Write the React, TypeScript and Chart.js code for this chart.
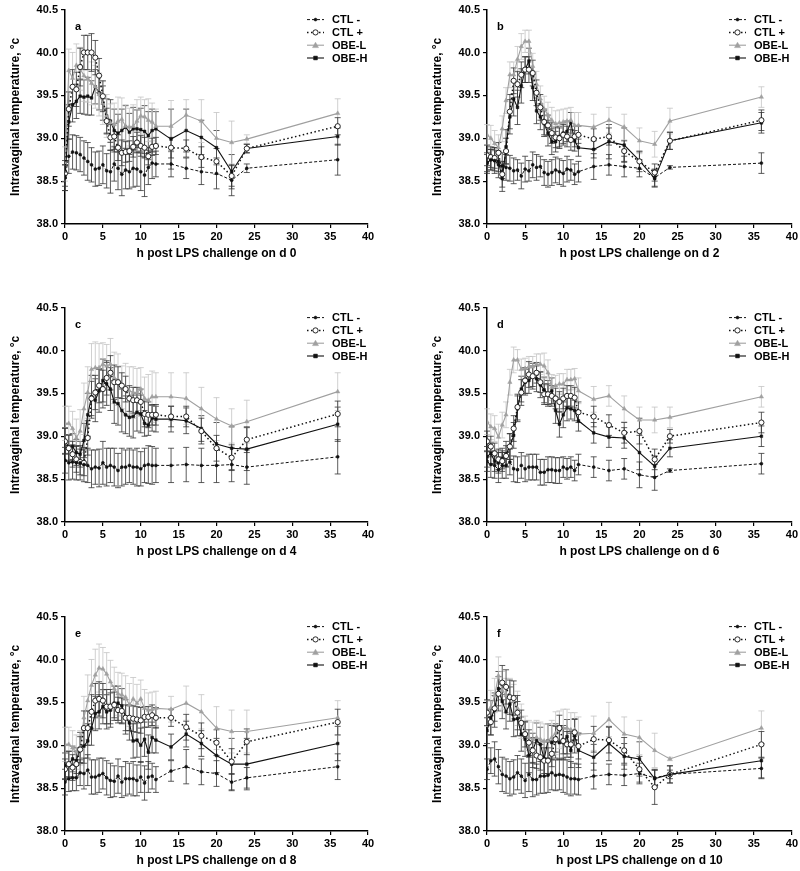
import React, { useEffect, useRef } from 'react';
import { Chart, registerables } from 'chart.js';
Chart.register(...registerables);

// ---------- data ----------
const hours = [0, 0.5, 1, 1.5, 2, 2.5, 3, 3.5, 4, 4.5, 5, 5.5, 6, 6.5, 7, 7.5, 8, 8.5, 9, 9.5, 10, 10.5, 11, 11.5, 12, 14, 16, 18, 20, 22, 24, 36];
const seriesLabels = ['CTL -', 'CTL +', 'OBE-L', 'OBE-H'];
const panelLetters = ['a', 'b', 'c', 'd', 'e', 'f'];
const challengeDays = [0, 2, 4, 6, 8, 10];
const yTitle = 'Intravaginal temperature, °c';
const xTicksMinMax = [0, 40];
const yTicksMinMax = [38, 40.5];

// panel a (d 0)
const aCtlNeg = [38.54, 38.79, 38.84, 38.83, 38.81, 38.77, 38.73, 38.69, 38.64, 38.65, 38.69, 38.62, 38.61, 38.70, 38.65, 38.58, 38.63, 38.61, 38.65, 38.64, 38.61, 38.57, 38.66, 38.71, 38.70, 38.70, 38.65, 38.61, 38.59, 38.51, 38.65, 38.75];
const aCtlPos = [38.59, 39.34, 39.60, 39.57, 39.83, 40.00, 40.00, 40.00, 39.94, 39.73, 39.49, 39.20, 39.01, 39.02, 38.89, 38.83, 38.84, 38.85, 38.90, 38.95, 38.91, 38.89, 38.79, 38.90, 38.91, 38.89, 38.88, 38.78, 38.73, 38.56, 38.88, 39.14];
const aObeL = [38.70, 39.79, 39.70, 39.85, 39.81, 39.73, 39.70, 39.64, 39.60, 39.51, 39.41, 39.26, 39.18, 39.16, 39.20, 39.22, 39.14, 39.13, 39.14, 39.20, 39.26, 39.25, 39.21, 39.19, 39.14, 39.14, 39.27, 39.20, 39.00, 38.95, 38.99, 39.29];
const aObeH = [38.54, 39.19, 39.39, 39.43, 39.49, 39.48, 39.49, 39.47, 39.60, 39.53, 39.41, 39.26, 39.20, 39.09, 39.06, 39.09, 39.13, 39.07, 39.11, 39.11, 39.10, 39.08, 39.03, 39.09, 39.11, 38.99, 39.09, 39.01, 38.89, 38.61, 38.88, 39.02];
const aCtlNegSe = [0.15, 0.2, 0.2, 0.2, 0.2, 0.2, 0.22, 0.2, 0.2, 0.2, 0.22, 0.2, 0.25, 0.2, 0.25, 0.25, 0.22, 0.2, 0.22, 0.2, 0.22, 0.25, 0.2, 0.18, 0.15, 0.15, 0.12, 0.15, 0.18, 0.18, 0.05, 0.18];
const aCtlPosSe = [0.15, 0.2, 0.2, 0.2, 0.22, 0.2, 0.2, 0.22, 0.2, 0.2, 0.18, 0.15, 0.15, 0.15, 0.15, 0.15, 0.12, 0.12, 0.12, 0.12, 0.12, 0.12, 0.1, 0.1, 0.1, 0.12, 0.1, 0.12, 0.15, 0.12, 0.05, 0.1];
const aObeLSe = [0.2, 0.25, 0.3, 0.25, 0.25, 0.3, 0.28, 0.25, 0.25, 0.25, 0.25, 0.25, 0.22, 0.25, 0.28, 0.25, 0.25, 0.22, 0.25, 0.25, 0.22, 0.2, 0.25, 0.22, 0.2, 0.3, 0.18, 0.25, 0.3, 0.25, 0.05, 0.17];
const aObeHSe = [0.15, 0.2, 0.2, 0.2, 0.2, 0.2, 0.22, 0.2, 0.2, 0.2, 0.2, 0.2, 0.25, 0.25, 0.22, 0.25, 0.25, 0.22, 0.25, 0.22, 0.25, 0.3, 0.28, 0.25, 0.2, 0.35, 0.25, 0.2, 0.2, 0.2, 0.05, 0.1];

// panel b (d 2)
const bCtlNeg = [38.71, 38.75, 38.74, 38.69, 38.68, 38.66, 38.65, 38.62, 38.63, 38.56, 38.64, 38.62, 38.69, 38.66, 38.67, 38.60, 38.58, 38.60, 38.63, 38.61, 38.59, 38.64, 38.63, 38.58, 38.61, 38.67, 38.69, 38.67, 38.65, 38.54, 38.66, 38.71];
const bCtlPos = [38.80, 38.78, 38.77, 38.83, 38.58, 38.85, 39.31, 39.67, 39.63, 39.74, 39.80, 39.80, 39.76, 39.53, 39.36, 39.19, 39.15, 39.06, 39.01, 39.00, 39.04, 39.02, 38.98, 39.02, 39.04, 38.99, 39.02, 38.85, 38.73, 38.60, 38.97, 39.21];
const bObeL = [39.04, 39.00, 38.94, 38.89, 39.11, 39.44, 39.74, 39.74, 39.92, 40.07, 40.13, 40.13, 39.84, 39.63, 39.46, 39.34, 39.27, 39.21, 39.17, 39.18, 39.19, 39.20, 39.21, 39.15, 39.15, 39.13, 39.21, 39.13, 38.97, 38.93, 39.20, 39.48];
const bObeH = [38.71, 38.75, 38.74, 38.73, 38.53, 38.90, 39.25, 39.46, 39.36, 39.61, 39.80, 39.90, 39.59, 39.32, 39.25, 39.17, 39.06, 38.96, 38.96, 39.02, 39.06, 39.08, 39.18, 38.97, 38.89, 38.87, 38.96, 38.92, 38.74, 38.53, 38.97, 39.18];
const bCtlNegSe = [0.1, 0.12, 0.15, 0.15, 0.15, 0.15, 0.15, 0.15, 0.12, 0.15, 0.15, 0.12, 0.15, 0.15, 0.12, 0.15, 0.15, 0.15, 0.15, 0.15, 0.15, 0.15, 0.12, 0.12, 0.12, 0.15, 0.12, 0.12, 0.1, 0.1, 0.02, 0.12];
const bCtlPosSe = [0.12, 0.12, 0.12, 0.12, 0.15, 0.15, 0.2, 0.15, 0.15, 0.15, 0.15, 0.15, 0.15, 0.15, 0.15, 0.15, 0.12, 0.12, 0.12, 0.12, 0.12, 0.12, 0.12, 0.12, 0.1, 0.12, 0.1, 0.12, 0.12, 0.1, 0.1, 0.12];
const bObeLSe = [0.12, 0.15, 0.15, 0.15, 0.15, 0.15, 0.15, 0.15, 0.15, 0.15, 0.13, 0.13, 0.15, 0.15, 0.15, 0.15, 0.15, 0.15, 0.15, 0.15, 0.15, 0.15, 0.15, 0.15, 0.15, 0.15, 0.15, 0.15, 0.15, 0.15, 0.15, 0.12];
const bObeHSe = [0.12, 0.12, 0.12, 0.12, 0.15, 0.2, 0.2, 0.2, 0.2, 0.2, 0.15, 0.15, 0.15, 0.15, 0.15, 0.15, 0.15, 0.15, 0.12, 0.12, 0.12, 0.12, 0.12, 0.12, 0.1, 0.1, 0.2, 0.2, 0.1, 0.1, 0.1, 0.12];

// panel c (d 4)
const cCtlNeg = [38.72, 38.69, 38.70, 38.69, 38.69, 38.67, 38.66, 38.62, 38.64, 38.63, 38.69, 38.64, 38.66, 38.64, 38.60, 38.64, 38.64, 38.66, 38.64, 38.64, 38.62, 38.66, 38.67, 38.66, 38.66, 38.66, 38.67, 38.66, 38.66, 38.67, 38.64, 38.76];
const cCtlPos = [38.94, 38.86, 38.79, 38.73, 38.70, 38.69, 38.98, 39.44, 39.51, 39.59, 39.55, 39.68, 39.74, 39.63, 39.63, 39.59, 39.55, 39.44, 39.42, 39.42, 39.40, 39.26, 39.25, 39.25, 39.25, 39.23, 39.23, 39.06, 38.86, 38.75, 38.96, 39.26];
const cObeL = [39.15, 39.15, 39.09, 38.98, 39.06, 39.32, 39.51, 39.78, 39.80, 39.80, 39.84, 39.82, 39.84, 39.68, 39.66, 39.57, 39.55, 39.53, 39.51, 39.51, 39.55, 39.44, 39.42, 39.46, 39.46, 39.46, 39.44, 39.32, 39.20, 39.12, 39.17, 39.52];
const cObeH = [38.95, 38.87, 38.88, 38.81, 38.79, 38.95, 39.25, 39.46, 39.42, 39.53, 39.65, 39.61, 39.55, 39.40, 39.38, 39.30, 39.25, 39.22, 39.23, 39.28, 39.26, 39.15, 39.13, 39.21, 39.20, 39.20, 39.18, 39.09, 38.91, 38.86, 38.85, 39.14];
const cCtlNegSe = [0.15, 0.2, 0.2, 0.2, 0.2, 0.2, 0.2, 0.22, 0.2, 0.22, 0.25, 0.22, 0.2, 0.22, 0.2, 0.22, 0.2, 0.2, 0.2, 0.22, 0.2, 0.2, 0.22, 0.22, 0.2, 0.2, 0.2, 0.2, 0.2, 0.2, 0.2, 0.2];
const cCtlPosSe = [0.15, 0.15, 0.15, 0.15, 0.15, 0.15, 0.2, 0.2, 0.2, 0.2, 0.22, 0.2, 0.2, 0.2, 0.18, 0.15, 0.15, 0.15, 0.15, 0.15, 0.15, 0.15, 0.15, 0.12, 0.12, 0.12, 0.12, 0.15, 0.15, 0.15, 0.15, 0.15];
const cObeLSe = [0.2, 0.2, 0.2, 0.22, 0.25, 0.3, 0.3, 0.3, 0.3, 0.28, 0.25, 0.25, 0.3, 0.3, 0.3, 0.25, 0.3, 0.28, 0.3, 0.28, 0.25, 0.25, 0.3, 0.3, 0.28, 0.28, 0.3, 0.25, 0.25, 0.2, 0.25, 0.22];
const cObeHSe = [0.15, 0.15, 0.15, 0.15, 0.15, 0.2, 0.25, 0.25, 0.25, 0.25, 0.25, 0.25, 0.25, 0.25, 0.25, 0.25, 0.22, 0.22, 0.25, 0.22, 0.22, 0.15, 0.12, 0.15, 0.15, 0.15, 0.15, 0.15, 0.25, 0.25, 0.25, 0.2];

// panel d (d 6)
const dCtlNeg = [38.71, 38.67, 38.66, 38.61, 38.66, 38.66, 38.70, 38.62, 38.61, 38.66, 38.62, 38.64, 38.64, 38.64, 38.58, 38.58, 38.61, 38.61, 38.60, 38.60, 38.64, 38.62, 38.64, 38.60, 38.67, 38.64, 38.60, 38.62, 38.55, 38.52, 38.60, 38.68];
const dCtlPos = [38.94, 38.88, 38.80, 38.73, 38.71, 38.77, 38.88, 39.09, 39.34, 39.51, 39.65, 39.72, 39.70, 39.74, 39.63, 39.49, 39.49, 39.47, 39.44, 39.40, 39.44, 39.47, 39.47, 39.45, 39.28, 39.23, 39.13, 39.04, 39.06, 38.73, 39.00, 39.16];
const dObeL = [39.17, 39.11, 39.09, 38.99, 39.13, 39.25, 39.63, 39.89, 39.89, 39.78, 39.79, 39.81, 39.81, 39.84, 39.84, 39.82, 39.74, 39.57, 39.59, 39.61, 39.61, 39.66, 39.66, 39.67, 39.53, 39.43, 39.47, 39.32, 39.19, 39.19, 39.22, 39.46];
const dObeH = [38.76, 38.80, 38.71, 38.69, 38.74, 38.79, 38.88, 39.01, 39.32, 39.55, 39.63, 39.65, 39.70, 39.67, 39.60, 39.54, 39.50, 39.53, 39.30, 39.14, 39.25, 39.33, 39.32, 39.30, 39.18, 39.04, 38.99, 38.98, 38.81, 38.65, 38.86, 39.00];
const dCtlNegSe = [0.12, 0.15, 0.15, 0.15, 0.15, 0.15, 0.15, 0.15, 0.15, 0.15, 0.15, 0.15, 0.15, 0.15, 0.15, 0.15, 0.15, 0.15, 0.15, 0.15, 0.12, 0.12, 0.12, 0.12, 0.12, 0.12, 0.12, 0.12, 0.15, 0.15, 0.02, 0.12];
const dCtlPosSe = [0.12, 0.12, 0.12, 0.12, 0.12, 0.12, 0.15, 0.15, 0.15, 0.15, 0.15, 0.15, 0.12, 0.12, 0.12, 0.12, 0.12, 0.12, 0.12, 0.12, 0.12, 0.12, 0.12, 0.12, 0.12, 0.12, 0.12, 0.12, 0.15, 0.12, 0.08, 0.12];
const dObeLSe = [0.15, 0.15, 0.15, 0.15, 0.15, 0.15, 0.15, 0.15, 0.12, 0.12, 0.12, 0.12, 0.12, 0.12, 0.12, 0.15, 0.15, 0.15, 0.12, 0.12, 0.12, 0.12, 0.12, 0.12, 0.15, 0.15, 0.12, 0.15, 0.15, 0.15, 0.12, 0.12];
const dObeHSe = [0.12, 0.12, 0.12, 0.12, 0.12, 0.15, 0.15, 0.15, 0.15, 0.15, 0.15, 0.15, 0.15, 0.15, 0.15, 0.15, 0.15, 0.15, 0.15, 0.15, 0.15, 0.15, 0.12, 0.12, 0.12, 0.12, 0.12, 0.12, 0.2, 0.12, 0.1, 0.12];

// panel e (d 8)
const eCtlNeg = [38.57, 38.61, 38.62, 38.62, 38.68, 38.67, 38.71, 38.63, 38.63, 38.65, 38.67, 38.62, 38.59, 38.58, 38.64, 38.57, 38.61, 38.61, 38.61, 38.59, 38.63, 38.56, 38.63, 38.64, 38.60, 38.70, 38.75, 38.69, 38.67, 38.57, 38.62, 38.75];
const eCtlPos = [38.72, 38.78, 38.74, 38.78, 38.95, 39.20, 39.20, 39.39, 39.52, 39.54, 39.52, 39.45, 39.45, 39.47, 39.41, 39.40, 39.32, 39.32, 39.31, 39.30, 39.29, 39.33, 39.33, 39.35, 39.32, 39.32, 39.21, 39.11, 39.03, 38.81, 39.04, 39.27];
const eObeL = [39.01, 39.01, 38.97, 38.92, 38.97, 39.32, 39.52, 39.70, 39.82, 39.90, 39.89, 39.83, 39.74, 39.66, 39.60, 39.59, 39.56, 39.47, 39.54, 39.49, 39.54, 39.43, 39.41, 39.42, 39.43, 39.42, 39.49, 39.39, 39.20, 39.16, 39.16, 39.32];
const eObeH = [38.76, 38.78, 38.84, 38.82, 38.97, 38.99, 39.05, 39.20, 39.37, 39.39, 39.45, 39.39, 39.41, 39.49, 39.49, 39.46, 39.33, 39.26, 39.05, 39.06, 39.00, 39.07, 38.92, 39.09, 39.06, 38.98, 39.13, 39.02, 38.88, 38.78, 38.78, 39.02];
const eCtlNegSe = [0.15, 0.15, 0.15, 0.15, 0.15, 0.18, 0.18, 0.2, 0.2, 0.2, 0.18, 0.2, 0.2, 0.18, 0.2, 0.18, 0.2, 0.18, 0.2, 0.18, 0.18, 0.2, 0.18, 0.15, 0.15, 0.12, 0.2, 0.15, 0.15, 0.1, 0.12, 0.15];
const eCtlPosSe = [0.12, 0.15, 0.15, 0.15, 0.15, 0.2, 0.2, 0.2, 0.2, 0.2, 0.2, 0.2, 0.2, 0.15, 0.15, 0.15, 0.15, 0.15, 0.15, 0.15, 0.15, 0.12, 0.12, 0.12, 0.12, 0.1, 0.15, 0.15, 0.15, 0.15, 0.15, 0.15];
const eObeLSe = [0.2, 0.2, 0.2, 0.2, 0.2, 0.25, 0.3, 0.3, 0.3, 0.28, 0.25, 0.25, 0.25, 0.25, 0.25, 0.25, 0.25, 0.25, 0.25, 0.22, 0.22, 0.22, 0.2, 0.2, 0.2, 0.15, 0.2, 0.2, 0.25, 0.25, 0.25, 0.2];
const eObeHSe = [0.15, 0.15, 0.15, 0.15, 0.18, 0.2, 0.2, 0.2, 0.2, 0.2, 0.2, 0.2, 0.2, 0.2, 0.2, 0.2, 0.2, 0.2, 0.2, 0.2, 0.2, 0.2, 0.2, 0.18, 0.15, 0.15, 0.15, 0.15, 0.2, 0.3, 0.3, 0.2];

// panel f (d 10)
const fCtlNeg = [38.72, 38.82, 38.84, 38.75, 38.66, 38.64, 38.61, 38.63, 38.68, 38.64, 38.59, 38.66, 38.60, 38.60, 38.64, 38.64, 38.65, 38.68, 38.65, 38.66, 38.65, 38.63, 38.61, 38.61, 38.60, 38.64, 38.66, 38.65, 38.67, 38.62, 38.66, 38.73];
const fCtlPos = [39.38, 39.27, 39.43, 39.60, 39.73, 39.68, 39.56, 39.55, 39.38, 39.26, 39.13, 39.03, 38.94, 38.88, 38.86, 38.82, 38.82, 38.90, 39.07, 39.20, 39.05, 39.01, 39.01, 39.15, 38.99, 39.07, 39.06, 38.94, 38.72, 38.51, 38.66, 39.01];
const fObeL = [39.37, 39.44, 39.58, 39.81, 39.64, 39.58, 39.58, 39.51, 39.43, 39.28, 39.14, 39.09, 39.07, 39.09, 39.07, 39.05, 39.05, 39.09, 39.14, 39.18, 39.20, 39.20, 39.18, 39.18, 39.13, 39.14, 39.30, 39.13, 39.09, 38.94, 38.84, 39.20];
const fObeH = [39.17, 39.32, 39.41, 39.66, 39.51, 39.39, 39.48, 39.30, 39.31, 39.13, 39.07, 38.88, 38.94, 39.06, 39.01, 38.84, 39.05, 39.03, 39.05, 39.03, 39.03, 39.10, 38.94, 39.11, 38.94, 38.86, 39.02, 38.87, 38.84, 38.61, 38.66, 38.82];
const fCtlNegSe = [0.12, 0.15, 0.2, 0.2, 0.2, 0.2, 0.2, 0.2, 0.2, 0.2, 0.2, 0.2, 0.2, 0.18, 0.2, 0.2, 0.2, 0.2, 0.18, 0.18, 0.2, 0.2, 0.2, 0.18, 0.18, 0.15, 0.12, 0.12, 0.12, 0.1, 0.1, 0.12];
const fCtlPosSe = [0.15, 0.15, 0.15, 0.2, 0.2, 0.2, 0.2, 0.2, 0.2, 0.15, 0.15, 0.15, 0.15, 0.15, 0.15, 0.15, 0.15, 0.15, 0.15, 0.15, 0.15, 0.15, 0.15, 0.15, 0.15, 0.15, 0.15, 0.15, 0.15, 0.2, 0.1, 0.15];
const fObeLSe = [0.15, 0.2, 0.2, 0.22, 0.22, 0.2, 0.2, 0.2, 0.2, 0.2, 0.2, 0.2, 0.2, 0.2, 0.2, 0.2, 0.2, 0.2, 0.25, 0.22, 0.22, 0.22, 0.2, 0.2, 0.2, 0.2, 0.2, 0.2, 0.2, 0.2, 0.02, 0.2];
const fObeHSe = [0.15, 0.2, 0.2, 0.2, 0.2, 0.2, 0.2, 0.2, 0.2, 0.2, 0.2, 0.2, 0.2, 0.2, 0.2, 0.2, 0.2, 0.2, 0.2, 0.2, 0.2, 0.2, 0.2, 0.2, 0.2, 0.15, 0.2, 0.15, 0.2, 0.1, 0.05, 0.2];

const panelMeans = [
  [aCtlNeg, aCtlPos, aObeL, aObeH],
  [bCtlNeg, bCtlPos, bObeL, bObeH],
  [cCtlNeg, cCtlPos, cObeL, cObeH],
  [dCtlNeg, dCtlPos, dObeL, dObeH],
  [eCtlNeg, eCtlPos, eObeL, eObeH],
  [fCtlNeg, fCtlPos, fObeL, fObeH],
];
const panelErrors = [
  [aCtlNegSe, aCtlPosSe, aObeLSe, aObeHSe],
  [bCtlNegSe, bCtlPosSe, bObeLSe, bObeHSe],
  [cCtlNegSe, cCtlPosSe, cObeLSe, cObeHSe],
  [dCtlNegSe, dCtlPosSe, dObeLSe, dObeHSe],
  [eCtlNegSe, eCtlPosSe, eObeLSe, eObeHSe],
  [fCtlNegSe, fCtlPosSe, fObeLSe, fObeHSe],
];

// ---------- styles ----------
const FONT = '"Liberation Sans", Arial, Helvetica, sans-serif';
const seriesStyles = [
  { color: '#111', err: '#333', width: 1, dash: [3, 2], point: 'circle', radius: 1.5, fill: '#111', pbw: 0.5 },
  { color: '#111', err: '#333', width: 1.5, dash: [1.5, 2.5], point: 'circle', radius: 2.6, fill: '#fff', pbw: 0.9 },
  { color: '#a0a0a0', err: '#c4c4c4', width: 1.1, dash: [], point: 'triangle', radius: 2.5, fill: '#a0a0a0', pbw: 0.5 },
  { color: '#111', err: '#333', width: 1.1, dash: [], point: 'rect', radius: 1.9, fill: '#111', pbw: 0.5 },
];

function drawMarker(ctx: CanvasRenderingContext2D, kind: string, x: number, y: number, r: number, fill: string, stroke: string, bw: number) {
  ctx.save();
  ctx.setLineDash([]);
  ctx.fillStyle = fill;
  ctx.strokeStyle = stroke;
  ctx.lineWidth = bw;
  ctx.beginPath();
  if (kind === 'circle') {
    ctx.arc(x, y, r, 0, Math.PI * 2);
  } else if (kind === 'triangle') {
    const s = r * 1.2;
    ctx.moveTo(x, y - s);
    ctx.lineTo(x - s, y + s * 0.8);
    ctx.lineTo(x + s, y + s * 0.8);
    ctx.closePath();
  } else {
    ctx.rect(x - r, y - r, 2 * r, 2 * r);
  }
  ctx.fill();
  ctx.stroke();
  ctx.restore();
}

type PanelProps = { idx: number; left: number; top: number; width: number; height: number; padRight: number };

function Panel({ idx, left, top, width, height, padRight }: PanelProps) {
  const ref = useRef<HTMLCanvasElement>(null);
  useEffect(() => {
    if (!ref.current) return;
    const means = panelMeans[idx];
    const errs = panelErrors[idx];

    const extras = {
      id: 'extras',
      beforeDatasetsDraw(chart: any) {
        const ctx = chart.ctx as CanvasRenderingContext2D;
        const ys = chart.scales.y;
        ctx.save();
        ctx.setLineDash([]);
        for (let i = chart.data.datasets.length - 1; i >= 0; i--) {
          const meta = chart.getDatasetMeta(i);
          ctx.strokeStyle = seriesStyles[i].err;
          ctx.lineWidth = 0.8;
          meta.data.forEach((el: any, j: number) => {
            const x = el.x;
            const y1 = ys.getPixelForValue(means[i][j] + errs[i][j]);
            const y2 = ys.getPixelForValue(means[i][j] - errs[i][j]);
            ctx.beginPath();
            ctx.moveTo(x, y1); ctx.lineTo(x, y2);
            ctx.moveTo(x - 3, y1); ctx.lineTo(x + 3, y1);
            ctx.moveTo(x - 3, y2); ctx.lineTo(x + 3, y2);
            ctx.stroke();
          });
        }
        ctx.restore();
      },
      afterDraw(chart: any) {
        const ctx = chart.ctx as CanvasRenderingContext2D;
        const ca = chart.chartArea;
        ctx.save();
        ctx.fillStyle = '#000';
        ctx.font = `bold 11px ${FONT}`;
        ctx.textBaseline = 'middle';
        ctx.textAlign = 'left';
        ctx.fillText(panelLetters[idx], ca.left + 10, ca.top + 17);
        seriesLabels.forEach((lab, i) => {
          const st = seriesStyles[i];
          const y = ca.top + 10 + i * 12.8;
          const x0 = ca.left + 242;
          const x1 = ca.left + 259;
          ctx.save();
          ctx.strokeStyle = st.color;
          ctx.lineWidth = st.width;
          ctx.setLineDash(st.dash);
          ctx.beginPath();
          ctx.moveTo(x0, y);
          ctx.lineTo(x1, y);
          ctx.stroke();
          ctx.restore();
          drawMarker(ctx, st.point, (x0 + x1) / 2, y, st.radius, st.fill, st.color, st.pbw);
          ctx.fillStyle = '#000';
          ctx.font = `bold 11px ${FONT}`;
          ctx.fillText(lab, ca.left + 267, y + 0.5);
        });
        ctx.restore();
      },
    };

    const chart = new Chart(ref.current, {
      type: 'line',
      data: {
        datasets: seriesLabels.map((label, i) => ({
          label,
          data: hours.map((h, j) => ({ x: h, y: means[i][j] })),
          borderColor: seriesStyles[i].color,
          borderWidth: seriesStyles[i].width,
          borderDash: seriesStyles[i].dash,
          pointStyle: seriesStyles[i].point as any,
          pointRadius: seriesStyles[i].radius,
          pointBackgroundColor: seriesStyles[i].fill,
          pointBorderColor: seriesStyles[i].color,
          pointBorderWidth: seriesStyles[i].pbw,
          tension: 0,
          fill: false,
        })),
      },
      options: {
        responsive: false,
        animation: false,
        events: [],
        layout: { padding: { top: 0, right: padRight, bottom: 0, left: 0 } },
        plugins: { legend: { display: false }, tooltip: { enabled: false } },
        scales: {
          x: {
            type: 'linear',
            min: xTicksMinMax[0],
            max: xTicksMinMax[1],
            ticks: { stepSize: 5, color: '#000', font: { family: FONT, size: 11, weight: 'bold' }, padding: 2, maxRotation: 0 },
            grid: { drawOnChartArea: false, drawTicks: true, tickLength: 4, color: '#000', lineWidth: 1.2 },
            border: { color: '#000', width: 1.5 },
            title: { display: true, text: `h post LPS challenge on d ${challengeDays[idx]}`, color: '#000', font: { family: FONT, size: 12, weight: 'bold' }, padding: { top: 2, bottom: 3 } },
            afterFit: (s: any) => { s.height = 40; },
          },
          y: {
            type: 'linear',
            min: yTicksMinMax[0],
            max: yTicksMinMax[1],
            ticks: { stepSize: 0.5, color: '#000', font: { family: FONT, size: 11, weight: 'bold' }, padding: 3, callback: (v: any) => Number(v).toFixed(1) },
            grid: { drawOnChartArea: false, drawTicks: true, tickLength: 4, color: '#000', lineWidth: 1.2 },
            border: { color: '#000', width: 1.5 },
            title: { display: true, text: yTitle, color: '#000', font: { family: FONT, size: 12, weight: 'bold' }, padding: { top: 8, bottom: 0 } },
            afterFit: (s: any) => { s.width = 65; },
          },
        },
      } as any,
      plugins: [extras],
    });
    return () => chart.destroy();
  }, [idx]);

  return (
    <div style={{ position: 'absolute', left, top, width, height }}>
      <canvas ref={ref} width={width} height={height} style={{ display: 'block', width, height }} />
    </div>
  );
}

const colLefts = [0, 422];
const colWidths = [380, 378];
const colPads = [12, 6];
const rowTops = [0, 298, 607];

export default function App() {
  return (
    <div style={{ position: 'absolute', left: 0, top: 0, width: 800, height: 871, background: '#fff', overflow: 'hidden' }}>
      {panelLetters.map((_, i) => {
        const c = i % 2;
        const r = Math.floor(i / 2);
        return <Panel key={i} idx={i} left={colLefts[c]} top={rowTops[r]} width={colWidths[c]} height={264} padRight={colPads[c]} />;
      })}
    </div>
  );
}
